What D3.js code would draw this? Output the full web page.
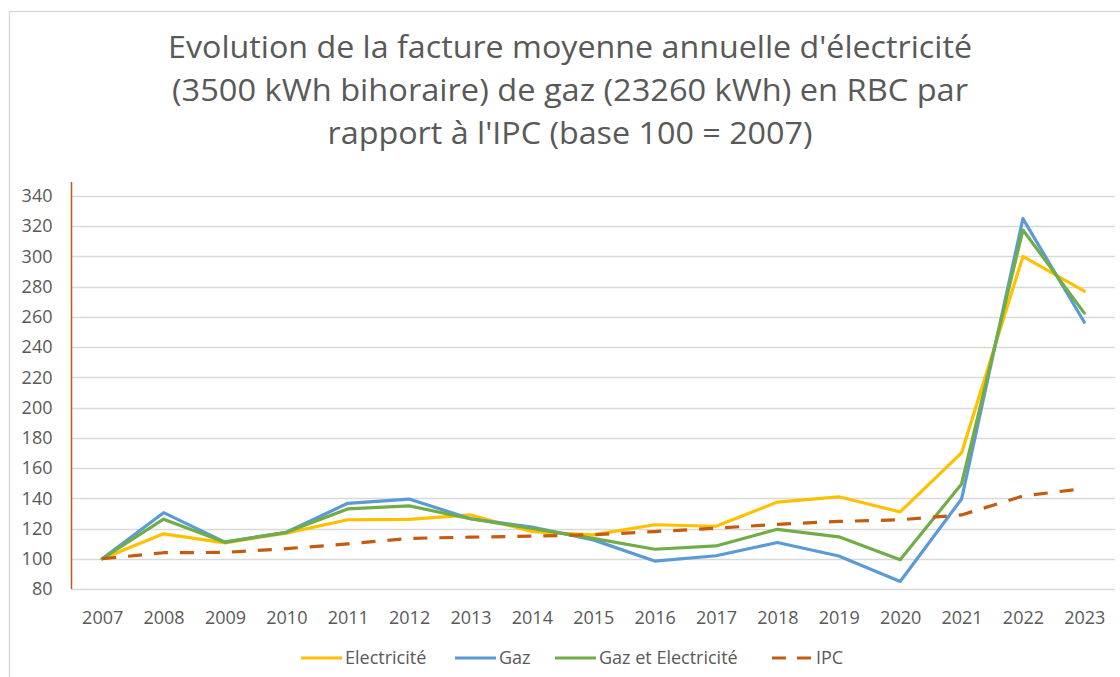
<!DOCTYPE html>
<html>
<head>
<meta charset="utf-8">
<script src="https://cdn.jsdelivr.net/npm/d3@7"></script>
<style>
  body { margin: 0; background: #fff; }
  svg text { font-family: "Open Sans", "DejaVu Sans", sans-serif; fill: #595959; }
</style>
</head>
<body>
<script>
// data (base 100 = 2007)
const years = ["2007", "2008", "2009", "2010", "2011", "2012", "2013", "2014", "2015",
  "2016", "2017", "2018", "2019", "2020", "2021", "2022", "2023"];
const electricite = [100, 116.5, 110.5, 117, 125.8, 126, 129, 118, 115.8, 122.5, 121.5, 137.5, 141, 131, 170, 300, 277];
const gaz = [100, 130.5, 111, 117.5, 136.7, 139.5, 126.5, 121, 112.5, 98.5, 102, 110.8, 101.8, 85, 139.5, 325, 256.5];
const gazElec = [100, 126.2, 111, 117.5, 133, 135, 126.5, 120, 113.5, 106.3, 108.5, 119.5, 114.5, 99.3, 149.5, 317.5, 262.5];
const ipc = [100, 104, 104.2, 106.7, 109.8, 113.5, 114.3, 115, 115.9, 118, 120.2, 122.8, 124.7, 125.8, 129, 141.5, 146.5];
const yTicks = [80, 100, 120, 140, 160, 180, 200, 220, 240, 260, 280, 300, 320, 340];
const titleLines = [
  "Evolution de la facture moyenne annuelle d'électricité",
  "(3500 kWh bihoraire) de gaz (23260 kWh) en RBC par",
  "rapport à l'IPC (base 100 = 2007)"
];

const series = [
  { name: "Electricité", values: electricite, color: "#FFC000", dash: null },
  { name: "Gaz", values: gaz, color: "#5B9BD5", dash: null },
  { name: "Gaz et Electricité", values: gazElec, color: "#70AD47", dash: null },
  { name: "IPC", values: ipc, color: "#C55A11", dash: "14,12" }
];

const W = 1120, H = 677;
const svg = d3.select("body").append("svg").attr("width", W).attr("height", H);

// chart frame
svg.append("path")
  .attr("d", `M9.5,${H}V11.5H${W}`)
  .attr("fill", "none").attr("stroke", "#d9d9d9").attr("stroke-width", 1.5);

// title
const titleLen = [804, 796, 485];
svg.append("g").selectAll("text")
  .data(titleLines)
  .join("text")
  .attr("x", 570)
  .attr("y", (d, i) => 58 + i * 43)
  .attr("text-anchor", "middle")
  .attr("font-size", 31)
  .attr("textLength", (d, i) => titleLen[i])
  .attr("lengthAdjust", "spacingAndGlyphs")
  .text(d => d);

const plotL = 71.5, plotR = 1115, plotT = 196, plotB = 589;

const x = d3.scalePoint().domain(years).range([plotL, plotR]).padding(0.5);
const y = d3.scaleLinear().domain([80, 340]).range([plotB, plotT]);

// gridlines
svg.append("g").selectAll("line")
  .data(yTicks)
  .join("line")
  .attr("x1", plotL).attr("x2", plotR)
  .attr("y1", d => Math.round(y(d)) + 0.5).attr("y2", d => Math.round(y(d)) + 0.5)
  .attr("stroke", "#d9d9d9").attr("stroke-width", 1.3);

// y axis
const yAxis = svg.append("g")
  .attr("transform", `translate(${plotL},0)`)
  .call(d3.axisLeft(y).tickValues(yTicks).tickSize(0).tickPadding(19));
yAxis.select(".domain").remove();
yAxis.selectAll("text").attr("font-size", 18).attr("fill", "#595959")
  .style("font-family", "'Open Sans', sans-serif");

// x axis labels
const xAxis = svg.append("g")
  .attr("transform", `translate(0,${plotB})`)
  .call(d3.axisBottom(x).tickSize(0).tickPadding(22));
xAxis.select(".domain").remove();
xAxis.selectAll("text").attr("font-size", 18).attr("fill", "#595959")
  .style("font-family", "'Open Sans', sans-serif");

// vertical axis line
svg.append("line")
  .attr("x1", plotL).attr("x2", plotL)
  .attr("y1", 182).attr("y2", plotB)
  .attr("stroke", "#C55A11").attr("stroke-width", 1.5);

// lines
const line = d3.line()
  .x((d, i) => x(years[i]))
  .y(d => y(d));

svg.append("g").selectAll("path")
  .data(series)
  .join("path")
  .attr("d", d => line(d.values))
  .attr("fill", "none")
  .attr("stroke", d => d.color)
  .attr("stroke-width", 3.2)
  .attr("stroke-linejoin", "round")
  .attr("stroke-linecap", d => d.dash ? "butt" : "round")
  .attr("stroke-dasharray", d => d.dash);

// legend
const legendX = [301, 455, 555, 772];
const legend = svg.append("g").selectAll("g")
  .data(series)
  .join("g")
  .attr("transform", (d, i) => `translate(${legendX[i]},658)`);
legend.append("line")
  .attr("x1", 0).attr("x2", 41)
  .attr("stroke", d => d.color)
  .attr("stroke-width", 3.2)
  .attr("stroke-dasharray", d => d.dash ? "14,11" : null);
legend.append("text")
  .attr("x", 44)
  .attr("dy", "0.35em")
  .attr("font-size", 18)
  .text(d => d.name);
</script>
</body>
</html>
